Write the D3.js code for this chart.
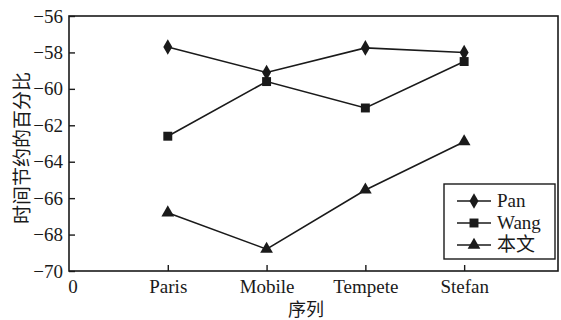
<!DOCTYPE html>
<html>
<head>
<meta charset="utf-8">
<script src="https://cdn.jsdelivr.net/npm/d3@7"></script>
<style>
  body { margin: 0; background: #fff; }
  svg { display: block; }
  .serif { font-family: "Liberation Serif", "DejaVu Serif", serif; }
  .cjk { font-family: "Noto Sans CJK SC", sans-serif; }
  .mixed { font-family: "Liberation Serif", "DejaVu Serif", "Noto Sans CJK SC", serif; }
</style>
</head>
<body>
<div id="chart"></div>
<script>
// Chart data
const categories = ['Paris', 'Mobile', 'Tempete', 'Stefan'];
const panValues = [-57.7, -59.1, -57.75, -58.0];
const wangValues = [-62.6, -59.6, -61.05, -58.5];
const oursValues = [-66.8, -68.8, -65.55, -62.9];
const yTicks = [-56, -58, -60, -62, -64, -66, -68, -70];

const series = [
  { name: 'Pan', values: panValues, symbol: d3.symbolDiamond, size: 70 },
  { name: 'Wang', values: wangValues, symbol: d3.symbolSquare, size: 80 },
  { name: '本文', values: oursValues, symbol: d3.symbolTriangle, size: 70 }
];

const width = 561, height = 320;
const plotLeft = 69, plotRight = 558, plotTop = 16, plotBottom = 271;
const ink = '#1a1a1a';

const svg = d3.select('#chart').append('svg')
  .attr('width', width)
  .attr('height', height);

const x = d3.scaleLinear().domain([0, 4.95]).range([plotLeft, plotRight]);
const y = d3.scaleLinear().domain([-70, -56]).range([plotBottom, plotTop]);

// Frame
svg.append('rect')
  .attr('x', plotLeft).attr('y', plotTop)
  .attr('width', plotRight - plotLeft).attr('height', plotBottom - plotTop)
  .attr('fill', 'none').attr('stroke', ink).attr('stroke-width', 1.6);

// Y axis (ticks pointing inward)
const yAxis = svg.append('g')
  .attr('transform', `translate(${plotLeft},0)`)
  .call(d3.axisRight(y).tickValues(yTicks).tickSize(6).tickFormat(d3.format('d')));
yAxis.attr('font-family', null).attr('font-size', 19).attr('class', 'serif');
yAxis.select('.domain').remove();
yAxis.selectAll('line').attr('stroke', ink).attr('stroke-width', 1.4);
yAxis.selectAll('text')
  .attr('x', -6).attr('text-anchor', 'end')
  .attr('fill', ink);

// X axis (ticks pointing inward)
const xAxis = svg.append('g')
  .attr('transform', `translate(0,${plotBottom})`)
  .call(d3.axisTop(x).tickValues([1, 2, 3, 4]).tickSize(6).tickFormat(d => categories[d - 1]));
xAxis.attr('font-family', null).attr('font-size', 19).attr('class', 'serif');
xAxis.select('.domain').remove();
xAxis.selectAll('line').attr('stroke', ink).attr('stroke-width', 1.4);
xAxis.selectAll('text')
  .attr('y', 22).attr('dy', 0)
  .attr('fill', ink);

svg.append('text')
  .attr('class', 'serif')
  .attr('x', x(0) + 4).attr('y', plotBottom + 22)
  .attr('text-anchor', 'middle')
  .attr('fill', ink).attr('font-size', 19)
  .text('0');

// Axis titles
svg.append('text')
  .attr('class', 'cjk')
  .attr('x', 306).attr('y', 316)
  .attr('text-anchor', 'middle')
  .attr('fill', ink).attr('font-size', 18)
  .text('序列');

svg.append('text')
  .attr('class', 'cjk')
  .attr('transform', 'translate(29,148) rotate(-90)')
  .attr('text-anchor', 'middle')
  .attr('fill', ink).attr('font-size', 19)
  .text('时间节约的百分比');

// Series lines and markers
const line = d3.line()
  .x((d, i) => x(i + 1))
  .y(d => y(d));

series.forEach(s => {
  svg.append('path')
    .attr('d', line(s.values))
    .attr('fill', 'none')
    .attr('stroke', ink).attr('stroke-width', 1.6);

  svg.selectAll(null)
    .data(s.values)
    .join('path')
    .attr('transform', (d, i) => `translate(${x(i + 1)},${y(d)})`)
    .attr('d', d3.symbol().type(s.symbol).size(s.size))
    .attr('fill', ink);
});

// Legend
const legend = svg.append('g').attr('transform', 'translate(444,184)');
legend.append('rect')
  .attr('width', 111).attr('height', 75)
  .attr('fill', '#fff').attr('stroke', ink).attr('stroke-width', 1.4);

series.forEach((s, i) => {
  const row = legend.append('g').attr('transform', `translate(0,${17 + i * 22})`);
  row.append('line')
    .attr('x1', 13).attr('x2', 47)
    .attr('stroke', ink).attr('stroke-width', 1.6);
  row.append('path')
    .attr('transform', 'translate(30,0)')
    .attr('d', d3.symbol().type(s.symbol).size(s.size))
    .attr('fill', ink);
  row.append('text')
    .attr('class', 'mixed')
    .attr('x', 53).attr('y', 6)
    .attr('fill', ink).attr('font-size', 19)
    .text(s.name);
});
</script>
</body>
</html>
